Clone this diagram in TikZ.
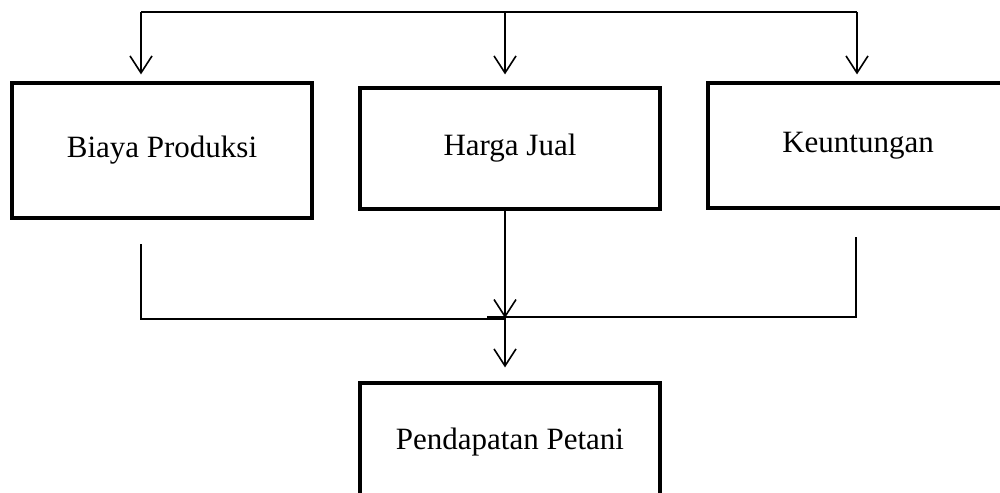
\documentclass[tikz,border=0pt]{standalone}
\usepackage{fontspec}
\setmainfont{Liberation Serif}
\usetikzlibrary{arrows.meta}
\begin{document}
\begin{tikzpicture}[x=1pt,y=-1pt,
  box/.style={draw=black,line width=3.2pt,minimum width=300pt,inner sep=0pt,font=\fontsize{31}{37}\selectfont},
  conn/.style={draw=black,line width=1.6pt},
  arr/.style={conn,-{Straight Barb[length=17pt,width=22pt,line width=1.6pt]}}]
\clip (0,0) rectangle (1000,492);
\useasboundingbox (0,0) rectangle (1000,492);
\node[box,minimum height=135pt] (b) at (162,150.5) {Biaya Produksi};
\node[box,minimum height=121pt] (h) at (510,148.5) {Harga Jual};
\node[box,minimum height=125pt] (k) at (858,145.5) {Keuntungan};
\node[box,minimum height=118pt] (p) at (510,442) {Pendapatan Petani};
% top distribution
\coordinate (tl) at (141,12);
\coordinate (tm) at (505,12);
\coordinate (tr) at (857,12);
\draw[conn] (tl) -- (tr);
\draw[arr,shorten >=7pt] (tl) -- (tl |- b.north);
\draw[arr,shorten >=12pt] (tm) -- (tm |- h.north);
\draw[arr,shorten >=7pt] (tr) -- (tr |- k.north);
% bottom collection
\coordinate (bl) at (141,244);
\coordinate (jl) at (141,319);
\coordinate (j) at (505,318);
\coordinate (br) at (856,237);
\coordinate (jr) at (856,317);
\coordinate (jre) at (487,317);
\draw[conn] (bl) -- (jl) -- (j |- jl);
\draw[conn] (br) -- (jr) -- (jre);
\draw[arr] (j |- h.south) -- (j);
\draw[arr,shorten >=14pt] (j) -- (j |- p.north);
\end{tikzpicture}
\end{document}
